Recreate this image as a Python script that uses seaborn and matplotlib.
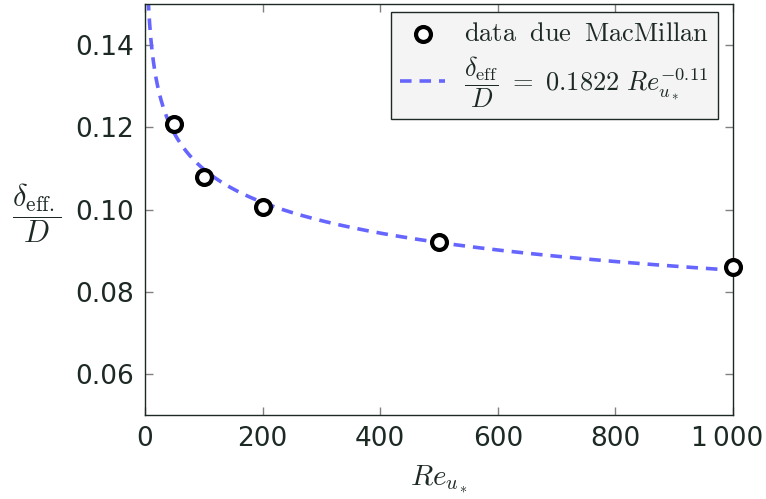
import numpy as np
import pandas as pd
import matplotlib
matplotlib.use("Agg")
import matplotlib.pyplot as plt
import matplotlib.transforms as mtransforms
import seaborn as sns

# Measured effective thickness (MacMillan)
re_data = [50, 100, 200, 500, 1000]
delta_data = [0.1207, 0.1078, 0.1007, 0.0920, 0.0859]

# Power-law fit coefficients
fit_coef = 0.1822
fit_exp = -0.11

x_ticks = [0, 200, 400, 600, 800, 1000]
x_tick_labels = ["0", "200", "400", "600", "800", "1\u2009000"]
y_ticks = [0.06, 0.08, 0.10, 0.12, 0.14]
y_tick_labels = ["0.06", "0.08", "0.10", "0.12", "0.14"]

sns.set_theme(style="white")
plt.rcParams["font.family"] = ["DejaVu Sans"]
plt.rcParams["mathtext.fontset"] = "cm"

ink = "#1d2a24"
fit_color = "#6666ff"

fig = plt.figure(figsize=(7.66, 4.99), dpi=100)
ax = fig.add_axes([145 / 766, 1 - 415 / 499, 588 / 766, 411 / 499])

re_fit = np.linspace(1, 1000, 2000)
fit_df = pd.DataFrame({"Re": re_fit, "delta": fit_coef * re_fit ** fit_exp})
data_df = pd.DataFrame({"Re": re_data, "delta": delta_data})

sns.lineplot(data=fit_df, x="Re", y="delta", ax=ax, color=fit_color,
             linewidth=2.6, linestyle=(0, (3.2, 2.2)), sort=False,
             label=r"$\dfrac{\delta_{\mathrm{eff}}}{D}\ =\ 0.1822\ Re_{u_*}^{-0.11}$",
             zorder=2)
sns.scatterplot(data=data_df, x="Re", y="delta", ax=ax, marker="o",
                s=115, facecolor="white", edgecolor="black", linewidth=3,
                label=r"$\mathrm{data\;\ due\;\ MacMillan}$", zorder=3, clip_on=False)

ax.set_xlim(0, 1000)
ax.set_ylim(0.05, 0.15)
ax.set_xticks(x_ticks)
ax.set_xticklabels(x_tick_labels)
ax.set_yticks(y_ticks)
ax.set_yticklabels(y_tick_labels)

ax.tick_params(axis="both", which="both", direction="in", length=6, width=1,
               color="#808080", labelsize=19, labelcolor=ink,
               top=True, right=True, bottom=True, left=True, pad=8)
for sp in ax.spines.values():
    sp.set_color(ink)
    sp.set_linewidth(1.0)

# nudge the last x tick label so it stays inside the figure
last = ax.get_xticklabels()[-1]
last.set_transform(last.get_transform()
                   + mtransforms.ScaledTranslation(-4 / 72, 0, fig.dpi_scale_trans))

ax.set_xlabel(r"$Re_{u_*}$", fontsize=21, color=ink, labelpad=8)
ax.set_ylabel(r"$\dfrac{\delta_{\mathrm{eff.}}}{D}$", fontsize=22, color=ink,
              rotation=0, va="center", ha="center")
ax.yaxis.set_label_coords(-0.184, 0.4915)

handles, labels = ax.get_legend_handles_labels()
order = [1, 0]
leg = ax.legend([handles[i] for i in order], [labels[i] for i in order],
                loc="upper right", bbox_to_anchor=(0.9745, 0.9805),
                borderaxespad=0, fontsize=19, frameon=True, fancybox=False,
                facecolor="#f4f4f4", edgecolor=ink, framealpha=1,
                handlelength=1.7, handletextpad=0.7, borderpad=0.35,
                labelspacing=0.25)
leg.get_frame().set_linewidth(1.0)
for t in leg.get_texts():
    t.set_color(ink)

fig.savefig("out.png", dpi=100)
